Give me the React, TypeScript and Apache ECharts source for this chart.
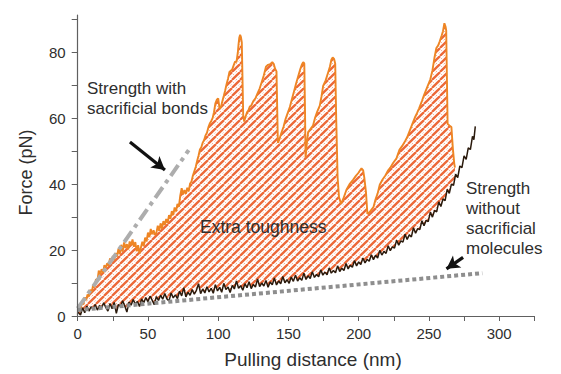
import React, { useEffect, useRef } from "react";
import * as echarts from "echarts";

// ---- data ----
const withBonds: [number, number][] = [
  [0,0.5],[1,2.5],[2,1.8],[3,4.2],[4,3.5],[5,5.6],[6,4.8],[7,6.5],[8,5.9],[9,8],[10,7.2],[11,9.4],[12,8.6],[13,11.2],[14,10.5],[15,13.8],[16,12.6],[17,14.2],[18,13.1],[19,15.4],[20,14.6],[21,16],[22,15.2],[23,17.5],[24,16.3],[25,18.2],[26,16.9],[27,19.1],[28,18],[29,20.4],[30,18.8],[31,21.6],[32,19.5],[33,22.3],[34,20.6],[35,21.8],[36,20.2],[37,22.6],[38,21.4],[39,23.2],[40,21],[41,22.4],[42,19.6],[43,21.5],[44,18.9],[45,20.8],[46,22.5],[47,21.2],[48,23.8],[49,22.6],[50,25.3],[51,23.9],[52,26.4],[53,24.8],[54,26],[55,24.6],[56,25.2],[57,27.4],[58,25.8],[59,28.1],[60,26.5],[61,28.8],[62,27.6],[63,29.4],[64,28.2],[65,30.6],[66,29.5],[67,31.8],[68,30.6],[69,32.9],[70,31.7],[71,34],[72,33.1],[73,36.5],[74,38.8],[75,36.9],[76,38.2],[77,37.1],[78,38.9],[79,37.8],[80,40.2],[81,40.8],[82,42.6],[83,43.9],[84,45.2],[85,47],[86,48.6],[87,50.5],[88,51.2],[89,52.6],[90,53.4],[91,54.8],[92,55.6],[93,57.2],[94,58.4],[95,59.1],[96,60],[97,61.8],[98,64.5],[99,65.6],[100,66],[101,62.8],[102,63.5],[103,65.2],[104,66.8],[105,68.5],[106,70.4],[107,72],[108,74],[109,74.4],[110,74.8],[111,76],[112,77.2],[113,77],[114,80],[114.5,82.5],[115,84.4],[115.6,85.3],[116.2,84.6],[116.8,83],[117.3,72],[117.8,61],[118.5,59],[119.5,60.5],[120.5,61.8],[121.5,62.4],[122.5,63.5],[123.5,63.8],[125,65.2],[126.5,66],[128,67.5],[129.5,69],[131,71],[132.5,73],[134,75.6],[135.5,76.2],[137,76.4],[138.5,77],[139.5,76.5],[140.5,75],[141.5,74.2],[142,63],[142.5,52.5],[143.5,53.5],[145,55.6],[146.5,57.4],[148,59.8],[149.5,61.6],[151,63.4],[152.5,65.8],[154,68.2],[155.5,70.6],[157,72.8],[158.5,75],[159.5,76.2],[160.5,77],[161.3,76.6],[161.8,62],[162.2,48],[163,52],[164,55.8],[165.5,56.6],[167.5,57.8],[169,60.2],[170.5,62],[172.3,63.8],[173.5,66.5],[174.7,69.8],[176.5,71.5],[178.2,73.8],[179.5,75.6],[180.6,77.8],[181.5,78.4],[182.5,78],[183.3,76.5],[184,60],[185,42],[186,36],[187.5,34],[189,35.5],[191.3,38.3],[193.5,40],[196,41.3],[198,42.5],[199.6,43.3],[201,44.2],[202,44.8],[203.2,44.2],[204,42],[205.2,37.5],[206.2,31],[207.5,31.4],[209,32.2],[210.5,33],[212,35.4],[213.5,37.2],[215,39.8],[217,41.4],[219,42.6],[221,44.2],[222.5,45],[224.5,46.4],[226.9,47.8],[229,50.4],[231,51.6],[233,53],[234.5,54.2],[236.5,56.4],[238.7,58.8],[240,60.2],[241.5,61.5],[243,63],[245,65.2],[246.5,67],[248,68.6],[249.5,70.2],[251,71.8],[252.5,74.5],[254,78.5],[255.3,81.3],[256.5,82],[257.7,83.3],[259,85],[260,86.4],[261,88.8],[261.8,87.8],[262.3,86.6],[262.8,72],[263.3,58.3],[264.5,57.8],[266,57.3],[267,51],[268,46.3],[268.5,45]
];

const withoutBonds: [number, number][] = [
  [0,1.2],[2,0.3],[3.5,2.5],[5,1],[6.5,3],[8,1.5],[9.5,2.8],[11,2],[12.5,3.5],[14,1.8],[15.5,3.2],[17,2.4],[18.5,4],[20,2.6],[21.5,1.5],[23,3.8],[24.5,2.2],[26,4.1],[27.5,0.8],[29,3.5],[30.5,2.9],[32,4.6],[33.5,3],[35,1.2],[36.5,4.2],[38,3.3],[39.5,5],[41,3.6],[42.5,4.4],[44,2.9],[45.5,5.2],[47,4],[48.5,5.6],[50,4.3],[51.5,6],[53,4.8],[54.5,3.4],[56,5.9],[57.5,4.7],[59,6.3],[60.5,5.1],[62,6.8],[63.5,5.2],[65,4.6],[66.5,7],[68,5.5],[69.5,6.4],[71,5.3],[72.5,7.5],[74,6.1],[75.5,8.6],[77,5.8],[78.5,7.2],[80,6.3],[81.5,8],[83,6.6],[84.5,7.8],[86,9.8],[87.5,6.8],[89,8.2],[90.5,7],[92,8.9],[93.5,7.3],[95,8.4],[96.5,6.9],[98,9.5],[99.5,7.6],[101,8.7],[102.5,7.2],[104,9.9],[105.5,8],[107,8.8],[108.5,7.1],[110,9.3],[111.5,8.2],[113,10.6],[114.5,8.4],[116,9.2],[117.5,7.8],[119,9.8],[120.5,8.6],[122,10.4],[123.5,8.3],[125,9.6],[126.5,8.8],[128,11.2],[129.5,8.9],[131,10],[132.5,9.1],[134,10.8],[135.5,8.7],[137,10.3],[138.5,9.5],[140,11.5],[141.5,9.4],[143,10.6],[144.5,9.8],[146,12],[147.5,10.1],[149,11],[150.5,9.9],[152,11.8],[153.5,10.5],[155,12.4],[156.5,10.6],[158,11.6],[159.5,10.8],[161,13],[162.5,11.1],[164,12.2],[165.5,11.4],[167,13.4],[168.5,11.7],[170,12.6],[171.5,11.9],[173,14],[174.5,12.4],[176,13.3],[177.5,12.5],[179,14.6],[180.5,13],[182,13.8],[183.5,13.1],[185,15.2],[186.5,13.5],[188,14.5],[189.5,13.8],[191,15.9],[192.5,14.3],[194,15.4],[195.5,14.8],[197,16.8],[198.5,15.2],[200,16.4],[201.5,15.6],[203,17.6],[204.5,16.1],[206,17.2],[207.5,16.6],[209,18.6],[210.5,17.1],[212,18.4],[213.5,17.6],[215,19.9],[216.5,18.5],[218,19.6],[219.5,19],[221,21.3],[222.5,19.8],[224,21],[225.5,20.6],[227,23],[228.5,21.5],[230,22.8],[231.5,22.4],[233,24.8],[234.5,23.2],[236,24.6],[237.5,24],[239,26.8],[240.5,25.1],[242,26.5],[243.5,26.2],[245,28.9],[246.5,27.4],[248,29],[249.5,28.6],[251,31.5],[252.5,30],[254,32],[255.5,31.6],[257,34.6],[258.5,33.2],[260,35.5],[261.5,35],[263,38.4],[264.5,37.2],[266,40],[267.5,39.6],[269,43],[270.5,42],[272,45.5],[273.5,45],[275,48.6],[276.5,47.5],[278,51],[279.5,50.5],[281,54.5],[282,53.5],[283,57.5]
];

const strengthWithLine: [number, number][] = [[0, 2.3], [79, 50.3]];
const strengthWithoutLine: [number, number][] = [[0, 1.8], [288, 13]];

const arrowWith: [number, number][] = [[37.2, 52.8], [62.1, 44.3]];
const arrowWithout: [number, number][] = [[274.3, 17.8], [262.5, 14.3]];

const xTickValues = [0, 25, 50, 75, 100, 125, 150, 175, 200, 225, 250, 275, 300, 325];
const xLabelValues = [0, 50, 100, 150, 200, 250, 300];
const yTickValues = [0, 10, 20, 30, 40, 50, 60, 70, 80, 90];
const yLabelValues = [0, 20, 40, 60, 80];

const FONT = "'Liberation Sans', Arial, Helvetica, sans-serif";
const TEXT = "#2e2e2e";
const AXIS = "#606060";

function makeHatch() {
  const c = document.createElement("canvas");
  c.width = 8;
  c.height = 8;
  const g = c.getContext("2d")!;
  g.strokeStyle = "#EC6838";
  g.lineWidth = 2.3;
  for (let k = -1; k <= 1; k++) {
    g.beginPath();
    g.moveTo(k * 8, 8);
    g.lineTo(k * 8 + 8, 0);
    g.stroke();
  }
  g.lineWidth = 0.9;
  g.strokeStyle = "rgba(236,104,56,0.6)";
  g.setLineDash([1.4, 2.2]);
  for (let k = -1; k <= 1; k++) {
    g.beginPath();
    g.moveTo(k * 8 + 4, 8);
    g.lineTo(k * 8 + 12, 0);
    g.stroke();
  }
  return c;
}

export default function App() {
  const ref = useRef<HTMLDivElement>(null);
  useEffect(() => {
    if (!ref.current) return;
    const chart = echarts.init(ref.current, null, { renderer: "svg" });
    const hatch = makeHatch();
    const axisCommon = {
      axisLine: { show: true, lineStyle: { color: AXIS, width: 1.2 } },
      splitLine: { show: false },
    };
    chart.setOption({
      animation: false,
      backgroundColor: "#ffffff",
      grid: { left: 77.7, right: 26.7, top: 15, bottom: 54.7 },
      xAxis: {
        type: "value",
        min: 0,
        max: 325,
        z: 10,
        ...axisCommon,
        name: "Pulling distance (nm)",
        nameLocation: "middle",
        nameGap: 34,
        nameTextStyle: { fontFamily: FONT, color: TEXT, fontSize: 19, padding: [0, 0, 0, 14] },
        axisTick: { show: true, inside: false, length: 5, customValues: xTickValues, lineStyle: { color: AXIS } },
        axisLabel: { customValues: xLabelValues, margin: 10, fontSize: 15, color: TEXT, fontFamily: FONT },
      },
      yAxis: {
        type: "value",
        min: 0,
        max: 91.3,
        z: 10,
        ...axisCommon,
        name: "Force (pN)",
        nameLocation: "middle",
        nameGap: 43,
        nameTextStyle: { fontFamily: FONT, color: TEXT, fontSize: 18, padding: [0, 14, 0, 0] },
        axisTick: { show: true, inside: false, length: 6, customValues: yTickValues, lineStyle: { color: AXIS } },
        axisLabel: { customValues: yLabelValues, margin: 12, fontSize: 15, color: TEXT, fontFamily: FONT },
      },
      series: [
        {
          type: "line",
          name: "with sacrificial bonds",
          data: withBonds,
          showSymbol: false,
          z: 2,
          lineStyle: { color: "#EE8524", width: 1.9 },
          areaStyle: { color: { image: hatch, repeat: "repeat", imageWidth: 8, imageHeight: 8 }, opacity: 1 },
        },
        {
          type: "line",
          name: "without sacrificial bonds",
          data: withoutBonds,
          showSymbol: false,
          z: 3,
          lineStyle: { color: "#2a1a0c", width: 1.5 },
          areaStyle: { color: "#ffffff", opacity: 1 },
        },
        {
          type: "line",
          name: "strength with",
          data: strengthWithLine,
          showSymbol: false,
          z: 4,
          lineStyle: { color: "#ADADAD", width: 4, type: [13, 5, 4, 5] },
        },
        {
          type: "line",
          name: "strength without",
          data: strengthWithoutLine,
          showSymbol: false,
          z: 4,
          lineStyle: { color: "#8E8E8E", width: 4, type: [4, 3] },
          markLine: {
            silent: true,
            symbol: ["none", "arrow"],
            symbolSize: [11, 13],
            label: { show: false },
            lineStyle: { color: "#111111", width: 3.2, type: "solid" },
            data: [
              [{ coord: arrowWith[0] }, { coord: arrowWith[1] }],
              [{ coord: arrowWithout[0] }, { coord: arrowWithout[1] }],
            ],
          },
        },
      ],
      graphic: [
        {
          type: "text",
          x: 87,
          y: 78,
          z: 20,
          style: { text: "Strength with\nsacrificial bonds", font: `17px ${FONT}`, fill: TEXT, lineHeight: 20, verticalAlign: "top" },
        },
        {
          type: "text",
          x: 200,
          y: 217,
          z: 20,
          style: { text: "Extra toughness", font: `17.5px ${FONT}`, fill: TEXT, lineHeight: 20, verticalAlign: "top" },
        },
        {
          type: "text",
          x: 466,
          y: 178,
          z: 20,
          style: { text: "Strength\nwithout\nsacrificial\nmolecules", font: `17px ${FONT}`, fill: TEXT, lineHeight: 20, verticalAlign: "top" },
        },
      ],
    });
    return () => chart.dispose();
  }, []);
  return <div ref={ref} style={{ width: 561, height: 374, position: "absolute", left: 0, top: 0 }} />;
}
